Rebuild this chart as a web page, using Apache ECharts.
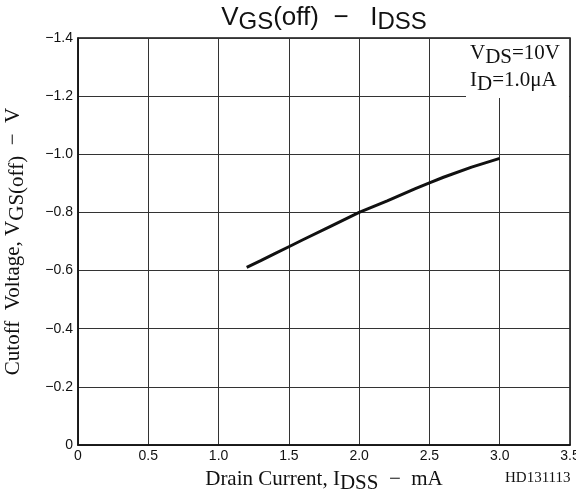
<!DOCTYPE html>
<html><head><meta charset="utf-8">
<script src="https://cdn.jsdelivr.net/npm/echarts@6/dist/echarts.min.js"></script>
<style>html,body{margin:0;padding:0;background:#fff}#c{width:576px;height:502px}</style>
</head><body><div id="c"></div>
<script>
const xTicks = [0, 0.5, 1.0, 1.5, 2.0, 2.5, 3.0, 3.5];
const yTicks = [-1.4, -1.2, -1.0, -0.8, -0.6, -0.4, -0.2, 0];
const idss = [1.2, 1.3, 1.4, 1.5, 1.6, 1.8, 2.0, 2.2, 2.4, 2.5, 2.6, 2.8, 3.0];
const vgsoff = [-0.611, -0.634, -0.658, -0.682, -0.706, -0.753, -0.80, -0.84, -0.882, -0.902, -0.921, -0.956, -0.986];

const chart = echarts.init(document.getElementById('c'), null, {renderer: 'canvas'});
const sans = 'Liberation Sans';
const serif = 'Liberation Serif';
chart.setOption({
  animation: false,
  backgroundColor: '#fff',
  title: {
    text: 'V{s|GS}(off)  −   I{s|DSS}',
    left: 319, top: -4, textAlign: 'center',
    textStyle: {
      fontFamily: sans, fontSize: 26, fontWeight: 'normal', color: '#111',
      rich: { s: { fontFamily: sans, fontSize: 24, color: '#111', padding: [9, 0, 0, 0] } }
    }
  },
  grid: { left: 78, right: 6, top: 38, bottom: 57, show: true, borderColor: '#111', borderWidth: 1.5,
    backgroundColor: 'transparent', outerBoundsMode: 'none', containLabel: false },
  xAxis: {
    type: 'value', min: 0, max: 3.5, interval: 0.5,
    axisLine: { show: true, lineStyle: { color: '#111', width: 1.5 } },
    axisTick: { show: false },
    splitLine: { show: true, lineStyle: { color: '#333', width: 1 } },
    axisLabel: { fontFamily: sans, fontSize: 14, color: '#111', margin: 4,
      formatter: v => v === 0 ? '0' : v.toFixed(1) },
    name: 'Drain Current, I{s|DSS}  −  mA', nameLocation: 'middle', nameGap: 19,
    nameTextStyle: { fontFamily: serif, fontSize: 21, color: '#111',
      rich: { s: { fontFamily: serif, fontSize: 21, color: '#111', padding: [9, 0, 0, 0] } } }
  },
  yAxis: {
    type: 'value', min: -1.4, max: 0, interval: 0.2, inverse: true,
    axisLine: { show: true, lineStyle: { color: '#111', width: 1.5 } },
    axisTick: { show: false },
    splitLine: { show: true, lineStyle: { color: '#333', width: 1 } },
    axisLabel: { fontFamily: sans, fontSize: 14, color: '#111', margin: 5,
      formatter: v => Math.abs(v) < 1e-9 ? '0' : '−' + Math.abs(v).toFixed(1) },
    name: 'Cutoff  Voltage, V{s|GS(off)}  −  V', nameLocation: 'middle', nameGap: 50, nameRotate: 90,
    nameTextStyle: { fontFamily: serif, fontSize: 21, color: '#111',
      rich: { s: { fontFamily: serif, fontSize: 21, color: '#111', padding: [9, 0, 0, 0] } } }
  },
  graphic: [
    { type: 'rect', shape: { x: 466, y: 39, width: 103, height: 59 }, style: { fill: '#fff' }, z: 10 },
    { type: 'text', x: 470, y: 40, z: 11, style: {
      text: 'V{s|DS}=10V\nI{s|D}=1.0μA', fontFamily: serif, fontSize: 21, fill: '#111', lineHeight: 27,
      rich: { s: { fontFamily: serif, fontSize: 21, fill: '#111', lineHeight: 27, padding: [8, 0, 0, 0] } } } },
    { type: 'text', x: 505, y: 471, z: 11, style: { text: 'HD131113', fontFamily: serif, fontSize: 15, fill: '#111' } }
  ],
  series: [{
    type: 'line', data: idss.map((x, i) => [x, vgsoff[i]]), smooth: false, showSymbol: false,
    lineStyle: { color: '#111', width: 3 }, z: 5
  }]
});
</script></body></html>
